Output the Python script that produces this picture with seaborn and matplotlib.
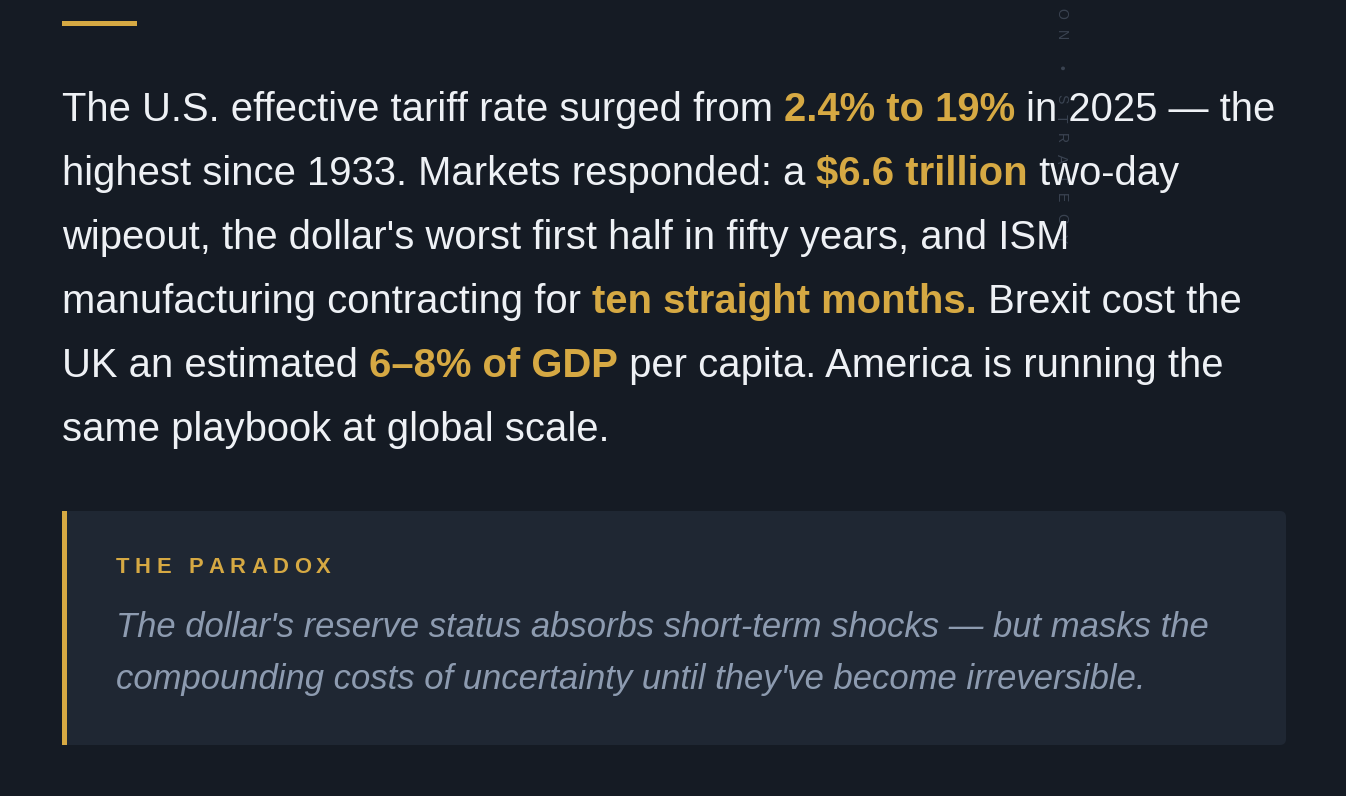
import matplotlib
matplotlib.use("Agg")
import matplotlib.pyplot as plt
import seaborn as sns
from matplotlib.patches import Rectangle, FancyBboxPatch

# --- Content ---
BODY_LINES = [
    [("The U.S. effective tariff rate surged from ", False), ("2.4% to 19%", True), (" in 2025 \u2014 the", False)],
    [("highest since 1933. Markets responded: a ", False), ("$6.6 trillion", True), (" two-day", False)],
    [("wipeout, the dollar's worst first half in fifty years, and ISM", False)],
    [("manufacturing contracting for ", False), ("ten straight months.", True), (" Brexit cost the", False)],
    [("UK an estimated ", False), ("6\u20138% of GDP", True), (" per capita. America is running the", False)],
    [("same playbook at global scale.", False)],
]
CALLOUT_LABEL = "THE PARADOX"
CALLOUT_LINES = [
    "The dollar's reserve status absorbs short-term shocks \u2014 but masks the",
    "compounding costs of uncertainty until they've become irreversible.",
]
SIDE_TAG = "ION \u2022 STRATEGY"

# --- Style ---
BG = "#151b24"
PANEL = "#1f2733"
GOLD = "#d6a943"
TEXT = "#eef1f5"
MUTED = "#8d9bb0"
FAINT = "#3a4351"
W, H, DPI = 1346, 796, 100
PX = 72 / DPI  # px -> pt

sns.set_theme(style="dark")
plt.rcParams["font.family"] = ["Liberation Sans", "DejaVu Sans"]

fig = plt.figure(figsize=(W / DPI, H / DPI), dpi=DPI, facecolor=BG)
ax = fig.add_axes([0, 0, 1, 1])
ax.set_xlim(0, W)
ax.set_ylim(H, 0)
ax.set_facecolor(BG)
ax.axis("off")
renderer = fig.canvas.get_renderer()


def text_width(s, **kw):
    # measure with bars on both sides so spaces count
    t1 = ax.text(0, 0, "|" + s + "|", parse_math=False, **kw)
    t2 = ax.text(0, 0, "||", parse_math=False, **kw)
    w = t1.get_window_extent(renderer).width - t2.get_window_extent(renderer).width
    t1.remove()
    t2.remove()
    return w


def spaced_text(s, x, y, spacing, vertical=False, **kw):
    pos = x if not vertical else y
    for ch in s:
        w = text_width(ch, **kw)
        if vertical:
            ax.text(x, pos, ch, rotation=-90, ha="center", va="top", parse_math=False, **kw)
        else:
            ax.text(pos, y, ch, ha="left", va="baseline", parse_math=False, **kw)
        pos += w + spacing


# gold rule at the top
ax.add_patch(Rectangle((62, 21), 75, 5, color=GOLD, lw=0))

# faint vertical tag (sits behind the paragraph)
spaced_text(SIDE_TAG, 1061, -6, 10.5, vertical=True, fontsize=14 * PX, color=FAINT, zorder=1)

# body paragraph
body_fs = 40 * PX
y = 121
for line in BODY_LINES:
    x = 62
    for seg, bold in line:
        kw = dict(fontsize=body_fs, color=GOLD if bold else TEXT,
                  fontweight="bold" if bold else "normal")
        ax.text(x, y, seg, ha="left", va="baseline", parse_math=False, zorder=3, **kw)
        x += text_width(seg, **kw)
    y += 64

# callout panel
ax.add_patch(FancyBboxPatch((62, 511), 1224, 234, boxstyle="round,pad=0,rounding_size=6",
                            facecolor=PANEL, edgecolor="none"))
ax.add_patch(Rectangle((62, 511), 5, 234, color=GOLD, lw=0))

spaced_text(CALLOUT_LABEL, 116, 573, 5.5, fontsize=22 * PX, color=GOLD, fontweight="bold")

y = 637
for line in CALLOUT_LINES:
    ax.text(116, y, line, ha="left", va="baseline", fontsize=34.6 * PX, color=MUTED,
            style="italic", parse_math=False)
    y += 52

fig.savefig("out.png", dpi=DPI, facecolor=BG)
